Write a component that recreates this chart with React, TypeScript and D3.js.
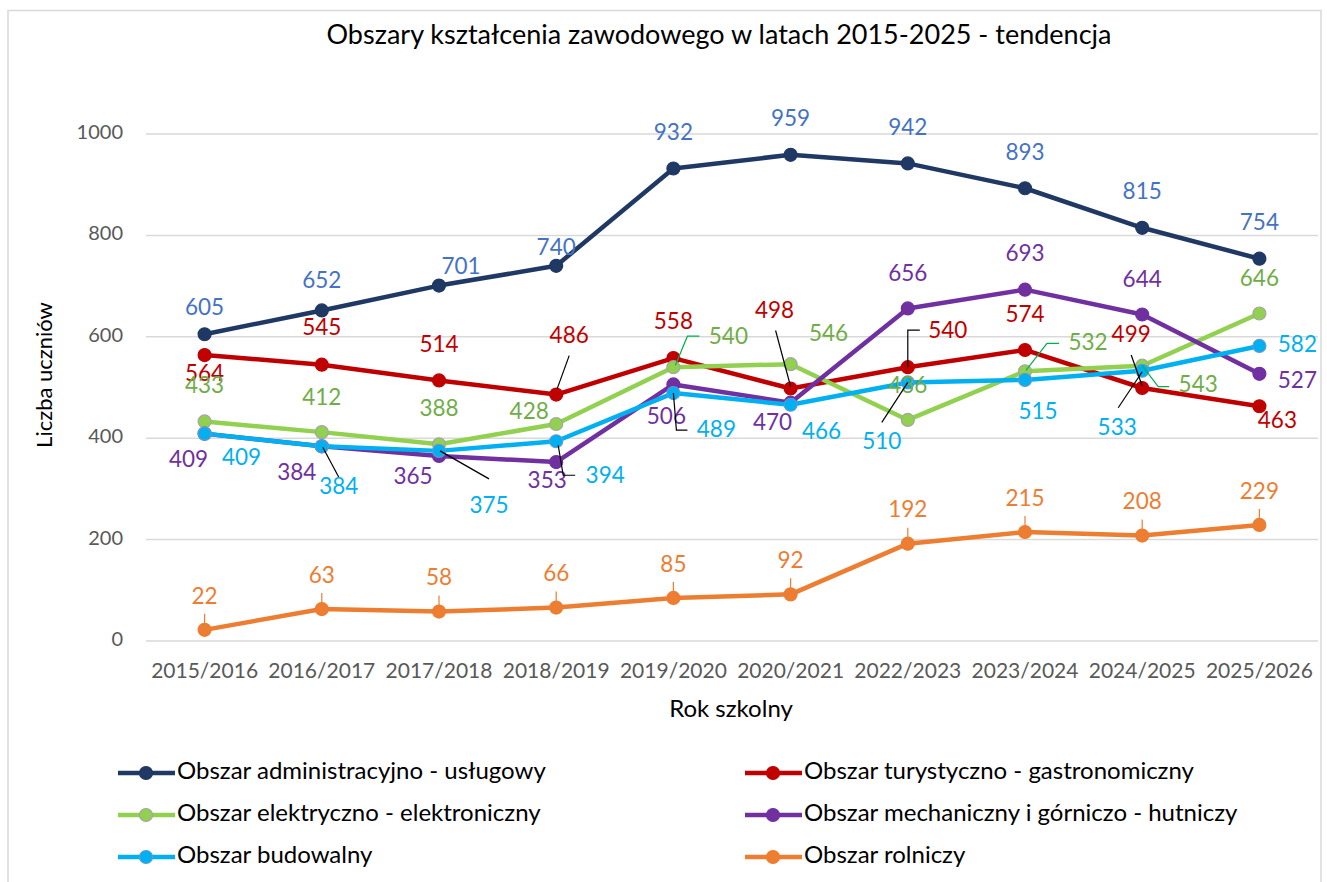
import React from "react";
import * as d3 from "d3";

const categories = ["2015/2016","2016/2017","2017/2018","2018/2019","2019/2020","2020/2021","2022/2023","2023/2024","2024/2025","2025/2026"];
const yTicks = [0, 200, 400, 600, 800, 1000];

const adminValues = [605, 652, 701, 740, 932, 959, 942, 893, 815, 754];
const turystValues = [564, 545, 514, 486, 558, 498, 540, 574, 499, 463];
const elektrValues = [433, 412, 388, 428, 540, 546, 436, 532, 543, 646];
const mechValues = [409, 384, 365, 353, 506, 470, 656, 693, 644, 527];
const budowValues = [409, 384, 375, 394, 489, 466, 510, 515, 533, 582];
const rolnValues = [22, 63, 58, 66, 85, 92, 192, 215, 208, 229];

const seriesNames = [
  "Obszar administracyjno - usługowy",
  "Obszar turystyczno - gastronomiczny",
  "Obszar elektryczno - elektroniczny",
  "Obszar mechaniczny i górniczo - hutniczy",
  "Obszar budowalny",
  "Obszar rolniczy",
];

type Lab = { dx: number; dy: number; leader?: [number, number][] };

// label placement (layout only)
const adminLabels: Lab[] = [
  { dx: 0, dy: -25 }, { dx: 0, dy: -28 }, { dx: 22, dy: -17 }, { dx: 0, dy: -17 },
  { dx: 0, dy: -34 }, { dx: 0, dy: -34 }, { dx: 0, dy: -34 }, { dx: 0, dy: -34 }, { dx: 0, dy: -34 }, { dx: 0, dy: -34 },
];
const turystLabels: Lab[] = [
  { dx: 0, dy: 20 }, { dx: 0, dy: -35 }, { dx: 0, dy: -34 },
  { dx: 13, dy: -57, leader: [[1, -6], [13, -39]] },
  { dx: 0, dy: -35 },
  { dx: -16, dy: -76, leader: [[-15, -58], [0, -2]] },
  { dx: 40, dy: -35, leader: [[12, -37], [0, -37], [0, 0]] },
  { dx: 0, dy: -34 },
  { dx: -11, dy: -52, leader: [[-11, -33], [0, -2]] },
  { dx: 18, dy: 16 },
];
const elektrLabels: Lab[] = [
  { dx: 0, dy: -34 }, { dx: 0, dy: -33 }, { dx: 0, dy: -34 }, { dx: -27, dy: -11 },
  { dx: 55, dy: -29, leader: [[2, -2], [14, -31], [26, -31]] },
  { dx: 38, dy: -29 },
  { dx: 0, dy: -33 },
  { dx: 63, dy: -27, leader: [[1, -1], [22, -28], [34, -28]] },
  { dx: 56, dy: 21, leader: [[0, 0], [16, 21], [27, 21]] },
  { dx: 0, dy: -33 },
];
const mechLabels: Lab[] = [
  { dx: -16, dy: 28 }, { dx: -25, dy: 28 }, { dx: -26, dy: 22 }, { dx: -9, dy: 20 },
  { dx: -7, dy: 34 }, { dx: -18, dy: 22 }, { dx: 0, dy: -33 }, { dx: 0, dy: -34 }, { dx: 0, dy: -33 }, { dx: 38, dy: 8 },
];
const budowLabels: Lab[] = [
  { dx: 37, dy: 26 },
  { dx: 17, dy: 42, leader: [[1, 1], [17, 31]] },
  { dx: 50, dy: 56, leader: [[1, 0], [50, 28]] },
  { dx: 49, dy: 36, leader: [[2, 4], [7, 34], [19, 34]] },
  { dx: 43, dy: 38, leader: [[0, 0], [3, 37], [14, 37]] },
  { dx: 31, dy: 29 },
  { dx: -26, dy: 61, leader: [[0, 0], [-26, 40]] },
  { dx: 13, dy: 33 },
  { dx: -25, dy: 59, leader: [[0, 1], [-24, 37]] },
  { dx: 38, dy: 0 },
];
const rolnLabels: Lab[] = rolnValues.map(() => ({ dx: 0, dy: -32, leader: [[0, -4], [0, -16]] as [number, number][] }));

const series = [
  { name: seriesNames[0], values: adminValues, color: "#1F3864", labelColor: "#4472C4", markerStroke: "#1F3864", leaderColor: "#000", labels: adminLabels },
  { name: seriesNames[1], values: turystValues, color: "#C00000", labelColor: "#C00000", markerStroke: "#C00000", leaderColor: "#000", labels: turystLabels },
  { name: seriesNames[2], values: elektrValues, color: "#92D050", labelColor: "#70AD47", markerStroke: "#A5A5A5", leaderColor: "#00B050", labels: elektrLabels },
  { name: seriesNames[3], values: mechValues, color: "#7030A0", labelColor: "#7030A0", markerStroke: "#7030A0", leaderColor: "#000", labels: mechLabels },
  { name: seriesNames[4], values: budowValues, color: "#00B0F0", labelColor: "#00B0F0", markerStroke: "#5B9BD5", leaderColor: "#000", labels: budowLabels },
  { name: seriesNames[5], values: rolnValues, color: "#ED7D31", labelColor: "#ED7D31", markerStroke: "#ED7D31", leaderColor: "#ED7D31", labels: rolnLabels },
];

const W = 1327, H = 882;
const FONT = "Lato, 'Open Sans', sans-serif";

export default function App() {
  const x = d3.scaleBand<string>().domain(categories).range([146, 1318]);
  const y = d3.scaleLinear().domain([0, 1000]).range([641, 134]);
  const cx = (c: string) => (x(c) as number) + x.bandwidth() / 2;
  const line = d3.line<number>().x((_, i) => cx(categories[i])).y((v) => y(v));

  const legendCols = [118, 745];
  const legendRows = [773, 815, 857];

  return (
    <svg width={W} height={H} style={{ position: "absolute", left: 0, top: 0, background: "#fff" }} fontFamily={FONT}>
      <rect x={0} y={0} width={W} height={H} fill="#fff" />
      <rect x={8} y={10.5} width={1313} height={H} fill="none" stroke="#D9D9D9" strokeWidth={1.5} />
      <text x={719} y={37} textAnchor="middle" dominantBaseline="middle" fontSize={27} fill="#000">
        Obszary kształcenia zawodowego w latach 2015-2025 - tendencja
      </text>
      {yTicks.map((t) => (
        <g key={t}>
          <line x1={146} x2={1318} y1={y(t)} y2={y(t)} stroke="#D9D9D9" strokeWidth={1.5} />
          <text x={123} y={y(t)} textAnchor="end" dominantBaseline="middle" fontSize={20} fill="#595959">{t}</text>
        </g>
      ))}
      {categories.map((c) => (
        <text key={c} x={cx(c)} y={673} textAnchor="middle" dominantBaseline="middle" fontSize={21} fill="#595959">{c}</text>
      ))}
      <text x={731} y={711} textAnchor="middle" dominantBaseline="middle" fontSize={24} fill="#000">Rok szkolny</text>
      <text transform={`translate(46,375) rotate(-90)`} textAnchor="middle" dominantBaseline="middle" fontSize={22} fill="#000">Liczba uczniów</text>

      {series.map((s) => (
        <g key={s.name}>
          <path d={line(s.values) || ""} fill="none" stroke={s.color} strokeWidth={4.5} strokeLinejoin="round" />
          {s.values.map((v, i) => (
            <circle key={i} cx={cx(categories[i])} cy={y(v)} r={6.5} fill={s.color} stroke={s.markerStroke} strokeWidth={1.2} />
          ))}
        </g>
      ))}

      {series.map((s) => (
        <g key={s.name + "-lab"}>
          {s.values.map((v, i) => {
            const px = cx(categories[i]);
            const py = y(v);
            const lab = s.labels[i];
            return (
              <g key={i}>
                {lab.leader && (
                  <polyline
                    points={lab.leader.map(([a, b]) => `${px + a},${py + b}`).join(" ")}
                    fill="none"
                    stroke={s.leaderColor}
                    strokeWidth={1.2}
                  />
                )}
                <text x={px + lab.dx} y={py + lab.dy} textAnchor="middle" dominantBaseline="middle" fontSize={22.5} fill={s.labelColor}>{v}</text>
              </g>
            );
          })}
        </g>
      ))}

      {series.map((s, k) => {
        const lx = legendCols[k % 2];
        const ly = legendRows[Math.floor(k / 2)];
        return (
          <g key={s.name + "-leg"}>
            <line x1={lx} x2={lx + 57} y1={ly} y2={ly} stroke={s.color} strokeWidth={4.5} />
            <circle cx={lx + 28} cy={ly} r={6.5} fill={s.color} stroke={s.markerStroke} strokeWidth={1.2} />
            <text x={lx + 59} y={ly} dominantBaseline="middle" fontSize={24} fill="#000">{s.name}</text>
          </g>
        );
      })}
    </svg>
  );
}
